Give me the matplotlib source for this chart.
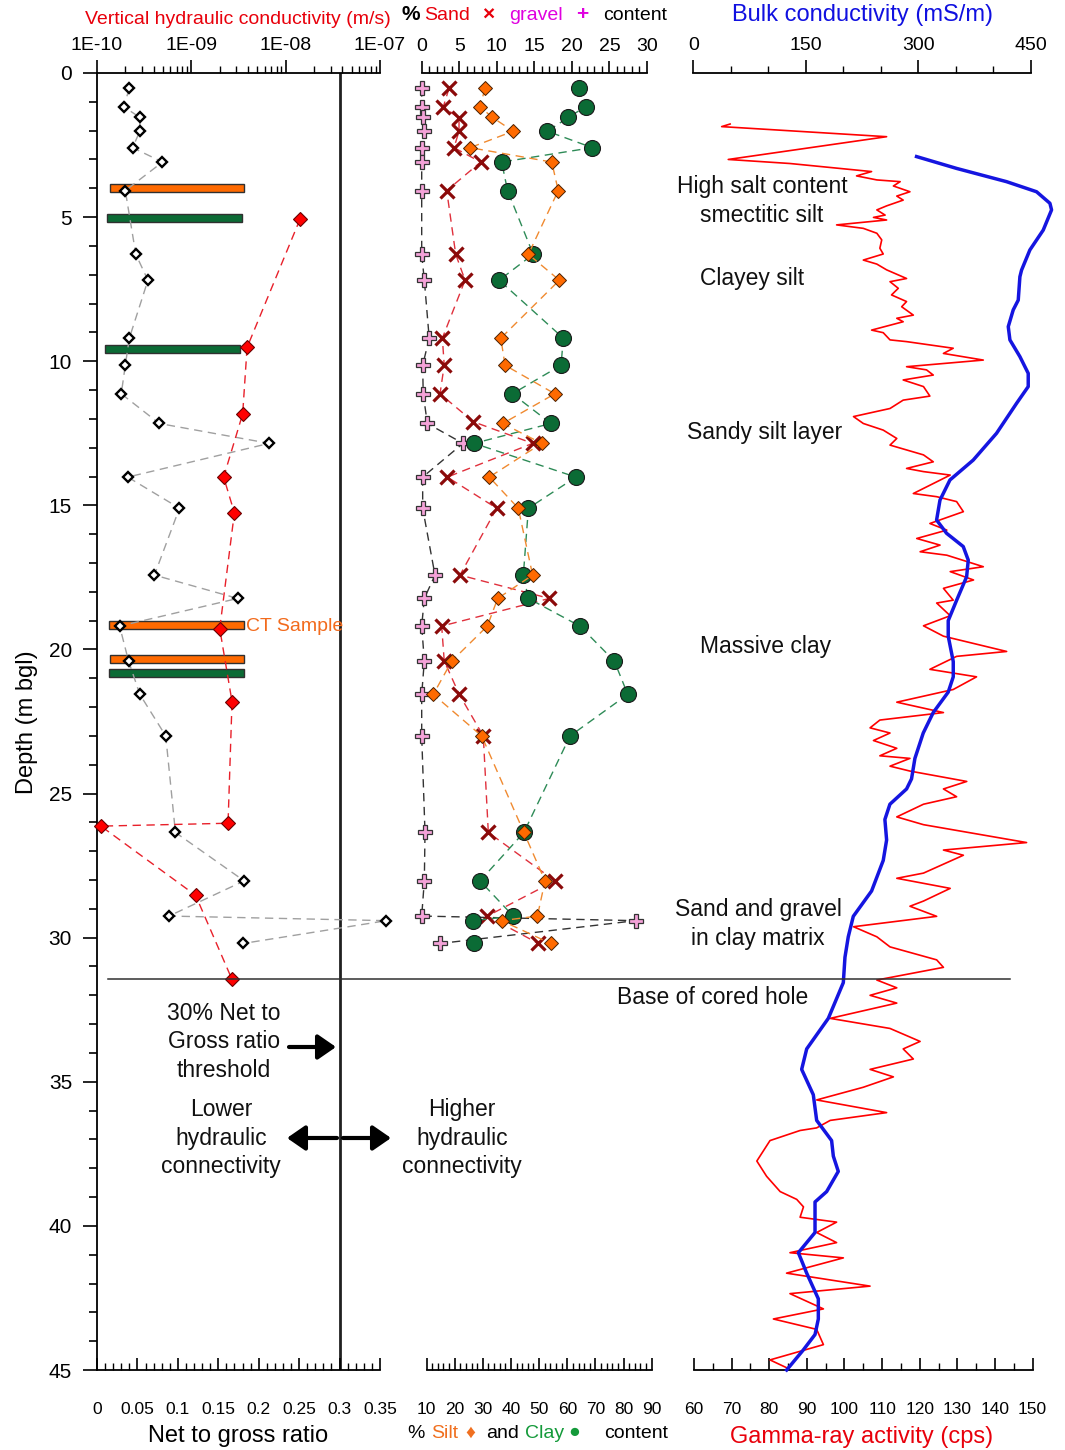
import numpy as np
import matplotlib
matplotlib.use("Agg")
import matplotlib.pyplot as plt
from matplotlib.ticker import FixedLocator, LogLocator, NullFormatter, FuncFormatter
from matplotlib.lines import Line2D
from matplotlib.patches import FancyArrowPatch
from matplotlib import transforms

plt.rcParams['font.family'] = ['Liberation Sans', 'DejaVu Sans']
plt.rcParams['axes.linewidth'] = 1.3

# ---------------- data ----------------
# core sample depths (m bgl)
sample_depth = [0.53, 1.17, 1.54, 2.02, 2.59, 3.09, 4.08, 6.29, 7.19, 9.20, 10.14, 11.13, 12.16, 12.85,
                14.02, 15.10, 17.42, 18.23, 19.19, 20.40, 21.56, 23.00, 26.35, 28.03, 29.25, 29.41, 30.20]
# net to gross ratio
ntg = [0.040, 0.033, 0.053, 0.053, 0.044, 0.081, 0.035, 0.048, 0.063, 0.040, 0.035, 0.030, 0.077, 0.213,
       0.038, 0.102, 0.071, 0.174, 0.028, 0.039, 0.053, 0.085, 0.097, 0.182, 0.089, 0.358, 0.181]
# vertical hydraulic conductivity (m/s)
k_depth = [5.07, 9.52, 11.83, 14.02, 15.26, 19.28, 21.81, 26.03, 26.13, 28.53, 31.45]
k_vals = [1.42e-8, 3.9e-9, 3.5e-9, 2.2e-9, 2.86e-9, 2.0e-9, 2.7e-9, 2.45e-9, 1.1e-10, 1.11e-9, 2.7e-9]
# sampled intervals (bars)
bar_depth = [4.00, 5.04, 9.57, 19.15, 20.32, 20.83]
bar_left = [0.016, 0.012, 0.010, 0.015, 0.016, 0.015]
bar_right = [0.182, 0.179, 0.177, 0.182, 0.182, 0.182]
bar_kind = ['orange', 'green', 'green', 'orange', 'orange', 'green']
# grain size composition (%)
gravel = [0.0, 0.0, 0.13, 0.3, 0.0, 0.0, 0.0, 0.0, 0.35, 1.0, 0.13, 0.2, 0.75, 5.5,
          0.13, 0.13, 1.77, 0.35, 0.0, 0.35, 0.0, 0.0, 0.44, 0.35, 0.0, 28.5, 2.5]
sand_depth = [0.53, 1.17, 1.57, 2.02, 2.59, 3.09, 4.08, 6.29, 7.19, 9.20, 10.14, 11.13, 12.10, 12.85,
              14.02, 15.10, 17.42, 18.23, 19.19, 20.40, 21.56, 23.00, 26.35, 28.03, 29.25, 30.20]
sand = [3.64, 2.88, 4.97, 4.97, 4.3, 7.85, 3.33, 4.53, 5.77, 2.75, 3.0, 2.44, 6.87, 14.78,
        3.41, 9.99, 5.1, 17.0, 2.66, 3.0, 5.0, 8.2, 8.87, 17.75, 8.74, 15.53]
silt = [30.8, 29.0, 33.4, 40.8, 25.5, 54.5, 56.8, 46.2, 57.2, 36.4, 37.9, 55.6, 37.1, 50.9,
        32.3, 42.6, 47.7, 35.3, 31.6, 19.0, 12.4, 29.6, 44.6, 52.1, 49.4, 36.7, 54.1]
clay = [64.2, 66.5, 60.4, 52.9, 68.9, 36.7, 38.8, 47.9, 35.8, 58.6, 57.8, 40.5, 54.2, 26.9,
        63.1, 46.2, 44.4, 46.2, 64.5, 76.7, 81.5, 61.0, 44.6, 29.0, 40.8, 26.6, 26.9]
# gamma-ray log (cps)
gamma = [69.6, 67.35, 111.2, 69.1, 85.5, 105.0, 107.2, 103.2, 108.6, 114.8, 113.0, 117.4, 113.9, 115.6,
         111.2, 108.6, 110.8, 107.7, 111.2, 97.9, 105.0, 108.6, 109.9, 109.4, 110.3, 105.0, 108.6, 111.2,
         116.5, 112.1, 114.3, 112.5, 116.5, 115.2, 118.3, 113.9, 115.6, 107.2, 110.3, 112.1, 116.5, 128.9,
         126.3, 136.9, 116.5, 121.8, 123.6, 115.6, 121.0, 122.7, 115.6, 112.1, 102.4, 105.0, 110.3, 113.9,
         112.1, 121.0, 123.6, 116.5, 121.0, 128.1, 118.3, 124.5, 129.8, 131.6, 122.7, 127.2, 119.2, 125.4,
         120.1, 127.2, 136.9, 128.1, 134.3, 126.3, 128.9,
         124.5, 128.1, 121.0, 126.3, 143.1, 129.8, 122.7, 135.1, 128.9, 113.9, 126.3, 109.4, 106.8, 112.1,
         107.7, 113.9, 109.4, 117.4, 112.1, 117.4, 132.5, 126.3, 129.8, 121.0, 113.9, 121.0, 148.4, 126.3,
         131.6, 121.0, 113.9, 128.1, 121.0, 117.4, 124.5, 102.4, 108.6, 112.1, 124.5, 126.3, 108.6, 113.9,
         106.8, 113.9, 96.2, 112.1, 120.1, 115.6, 118.3, 106.8, 113.0, 105.0, 92.6, 111.2, 96.2, 92.6,
         88.2, 80.2, 76.7, 79.3, 82.9, 87.3, 89.1, 88.2, 97.9, 92.6, 97.9, 85.5, 99.7, 84.6, 106.8, 85.5,
         94.4, 81.1, 92.6, 94.4, 80.2, 84.6]
gamma_depth = [1.77, 1.86, 2.21, 3.00, 3.14, 3.39, 3.42, 3.57, 3.71, 3.77, 3.92, 4.12, 4.27, 4.41,
               4.61, 4.75, 4.93, 5.01, 5.10, 5.27, 5.39, 5.56, 5.79, 6.08, 6.28, 6.49, 6.63, 6.83,
               7.13, 7.24, 7.47, 7.70, 7.93, 8.11, 8.40, 8.51, 8.63, 8.92, 9.01, 9.26, 9.32, 9.55,
               9.73, 9.96, 10.19, 10.30, 10.48, 10.65, 10.88, 11.21, 11.35, 11.64, 11.92, 12.16, 12.39, 12.68,
               12.91, 13.25, 13.49, 13.72, 13.83, 13.95, 14.59, 14.70, 14.87, 15.22, 15.63, 15.86, 16.15, 16.38,
               16.61, 16.73, 17.13, 17.30, 17.59, 17.88, 18.29,
               18.39, 18.83, 19.18, 19.54, 20.07, 20.24, 20.69, 20.95, 21.39, 21.83, 22.19, 22.45, 22.72, 22.90,
               23.16, 23.43, 23.69, 23.78, 24.05, 24.22, 24.58, 24.84, 25.11, 25.37, 25.81, 26.08, 26.70, 26.96,
               27.14, 27.76, 27.94, 28.29, 28.73, 28.91, 29.26, 29.62, 29.97, 30.32, 30.77, 31.03, 31.47, 31.74,
               32.00, 32.27, 32.80, 33.15, 33.60, 33.86, 34.21, 34.57, 34.83, 35.19, 35.63, 36.07, 36.34, 36.60,
               36.69, 37.04, 37.75, 38.28, 38.81, 39.08, 39.34, 39.70, 39.87, 40.23, 40.58, 40.93, 41.11, 41.64,
               42.09, 42.35, 42.88, 43.23, 43.59, 44.12, 44.65, 44.92]
# bulk conductivity (mS/m)
bulk = [297.5, 350.8, 417.4, 457.4, 475.2, 477.4, 466.3, 448.5, 437.4, 435.2, 433.0, 426.3, 419.7, 421.9,
        435.2, 446.3, 446.3, 430.8, 404.1, 373.0, 342.0, 328.7, 324.2, 337.5, 359.7, 366.4, 364.2, 350.8,
        339.7, 339.7, 346.4, 346.4, 339.7, 319.7, 306.4, 295.3, 290.8, 284.2, 262.0, 255.3, 257.6, 253.1,
        237.6, 213.2, 206.5, 202.1, 199.9, 179.9, 151.1, 144.4, 159.9, 164.4, 184.3, 186.6, 193.2, 177.7,
        162.2, 162.2, 140.0, 151.1, 166.6, 166.6, 162.2, 146.7, 124.4]
bulk_depth = [2.90, 3.31, 3.77, 4.12, 4.52, 4.75, 5.45, 6.14, 6.84, 7.07, 7.88, 8.22, 8.80, 9.26,
              9.84, 10.42, 10.88, 11.46, 12.50, 13.43, 14.12, 14.82, 15.51, 15.97, 16.43, 16.90, 17.48, 18.30,
              19.00, 19.54, 20.42, 20.95, 21.48, 22.19, 22.90, 23.78, 24.49, 24.84, 25.37, 25.90, 26.61, 27.32,
              28.38, 29.26, 29.97, 30.68, 31.56, 32.80, 33.86, 34.57, 35.45, 36.34, 37.04, 37.58, 38.11, 38.81,
              39.17, 40.23, 40.93, 41.64, 42.53, 43.23, 43.77, 44.30, 45.00]
base_depth = 31.45
ntg_threshold = 0.3

# ---------------- layout helpers ----------------
W, H = 1065, 1450
fig = plt.figure(figsize=(W / 100, H / 100), dpi=100)
Y0, Y1 = 73, 1370
PT = 0.72


def rect(x0, x1):
    return [x0 / W, 1 - Y1 / H, (x1 - x0) / W, (Y1 - Y0) / H]


def fx(px):
    return px / W


def fy(py):
    return 1 - py / H


def only_spine(ax, keep):
    for s in ['left', 'right', 'top', 'bottom']:
        ax.spines[s].set_visible(s in keep)
        ax.spines[s].set_linewidth(1.3)


DASH = (6, 4)
TOP_PAD = 4.5
BOT_PAD = 23

# ---------------- panel 1 ----------------
ax1 = fig.add_axes(rect(97, 380))
ax1.set_xlim(0, 0.35)
ax1.set_ylim(45, 0)
only_spine(ax1, ['left', 'bottom'])
ax1.yaxis.set_major_locator(FixedLocator(np.arange(0, 46, 5)))
ax1.yaxis.set_minor_locator(FixedLocator(np.arange(0, 46, 1)))
ax1.tick_params(axis='y', which='major', direction='out', length=14 * PT, width=1.2, labelsize=15, pad=11 * PT)
ax1.tick_params(axis='y', which='minor', direction='out', length=8 * PT, width=1.2)
ax1.xaxis.set_major_locator(FixedLocator(np.round(np.arange(0, 0.351, 0.05), 2)))
ax1.xaxis.set_minor_locator(FixedLocator(np.round(np.arange(0, 0.351, 0.01), 2)))
ax1.xaxis.set_major_formatter(FuncFormatter(lambda v, p: f'{v:g}'))
ax1.tick_params(axis='x', which='major', direction='in', length=12 * PT, width=1.2, labelsize=12.5,
                pad=BOT_PAD, top=False)
ax1.tick_params(axis='x', which='minor', direction='in', length=7 * PT, width=1.0, top=False)

bar_colors = {'orange': '#FF6A00', 'green': '#0B6B35'}
ax1.barh(bar_depth, np.array(bar_right) - np.array(bar_left), left=bar_left, height=0.27,
         color=[bar_colors[k] for k in bar_kind], edgecolor='#303030', linewidth=1, zorder=2)
ax1.axvline(ntg_threshold, color='#202020', lw=2, zorder=1)
ax1.plot(ntg, sample_depth, color='#A0A0A0', lw=1, dashes=DASH, zorder=3, clip_on=False)
ax1.plot(ntg, sample_depth, ls='none', marker='D', ms=5.2, mfc='white', mec='black', mew=1.7,
         zorder=4, clip_on=False)

ax1k = ax1.twiny()
ax1k.set_xscale('log')
ax1k.set_xlim(1e-10, 1e-7)
only_spine(ax1k, ['top'])
ax1k.xaxis.set_major_locator(FixedLocator([1e-10, 1e-9, 1e-8, 1e-7]))
ax1k.xaxis.set_minor_locator(LogLocator(base=10, subs=np.arange(2, 10)))
ax1k.xaxis.set_major_formatter(FuncFormatter(lambda v, p: '1E-%02d' % round(-np.log10(v))))
ax1k.xaxis.set_minor_formatter(NullFormatter())
ax1k.tick_params(axis='x', which='major', direction='out', length=13 * PT, width=1.2, labelsize=14, pad=TOP_PAD)
ax1k.tick_params(axis='x', which='minor', direction='out', length=7 * PT, width=1.0)
ax1k.plot(k_vals, k_depth, color='#E8202A', lw=1, dashes=DASH, zorder=3)
ax1k.plot(k_vals, k_depth, ls='none', marker='D', ms=7.6, mfc='#FF0000', mec='#6a0000', mew=0.8,
          zorder=4, clip_on=False)

ax1.text(0.1843, 19.19, 'CT Sample', color='#F26B1D', fontsize=14, ha='left', va='center', zorder=5)

# ---------------- panel 2 ----------------
ax2t = fig.add_axes(rect(421.7, 647))
ax2t.set_xlim(0, 30)
ax2t.set_ylim(45, 0)
ax2t.patch.set_visible(False)
only_spine(ax2t, ['top'])
ax2t.yaxis.set_visible(False)
ax2t.xaxis.tick_top()
ax2t.xaxis.set_major_locator(FixedLocator(np.arange(0, 31, 5)))
ax2t.xaxis.set_minor_locator(FixedLocator(np.arange(0, 31, 1)))
ax2t.tick_params(axis='x', which='major', direction='out', length=12 * PT, width=1.2, labelsize=14, pad=TOP_PAD)
ax2t.tick_params(axis='x', which='minor', direction='out', length=7 * PT, width=1.0)

ax2t.plot(gravel, sample_depth, color='#333333', lw=1, dashes=DASH, clip_on=False)
ax2t.plot(gravel, sample_depth, ls='none', marker='P', ms=10.5, mfc='#F4A2D8', mec='#333333', mew=0.9,
          clip_on=False)
ax2t.plot(sand, sand_depth, color='#E0303C', lw=1, dashes=DASH, clip_on=False)
ax2t.plot(sand, sand_depth, ls='none', marker='x', ms=10, mec='#8B0A0A', mew=2.3, clip_on=False)

ax2b = fig.add_axes(rect(426.5, 651.7))
ax2b.set_xlim(10, 90)
ax2b.set_ylim(45, 0)
ax2b.patch.set_visible(False)
only_spine(ax2b, ['bottom'])
ax2b.yaxis.set_visible(False)
ax2b.xaxis.set_major_locator(FixedLocator(np.arange(10, 91, 10)))
ax2b.xaxis.set_minor_locator(FixedLocator(np.arange(10, 91, 2)))
ax2b.tick_params(axis='x', which='major', direction='in', length=12 * PT, width=1.2, labelsize=12.5, pad=BOT_PAD)
ax2b.tick_params(axis='x', which='minor', direction='in', length=7 * PT, width=1.0)

ax2b.plot(clay, sample_depth, color='#2E8B57', lw=1, dashes=DASH, clip_on=False)
ax2b.plot(clay, sample_depth, ls='none', marker='o', ms=11.5, mfc='#0B6B35', mec='#1a1a1a', mew=0.8,
          clip_on=False)
ax2b.plot(silt, sample_depth, color='#F08A30', lw=1, dashes=DASH, clip_on=False)
ax2b.plot(silt, sample_depth, ls='none', marker='D', ms=7.4, mfc='#FF6A00', mec='#4a2000', mew=0.7,
          clip_on=False)

# ---------------- panel 3 ----------------
ax3b = fig.add_axes(rect(694, 1032.6))
ax3b.set_xlim(60, 150)
ax3b.set_ylim(45, 0)
ax3b.patch.set_visible(False)
only_spine(ax3b, ['bottom'])
ax3b.yaxis.set_visible(False)
ax3b.xaxis.set_major_locator(FixedLocator(np.arange(60, 151, 10)))
ax3b.xaxis.set_minor_locator(FixedLocator(np.arange(60, 151, 5)))
ax3b.tick_params(axis='x', which='major', direction='in', length=12 * PT, width=1.2, labelsize=12.5, pad=BOT_PAD)
ax3b.tick_params(axis='x', which='minor', direction='in', length=7 * PT, width=1.0)
ax3b.plot(gamma, gamma_depth, color='#FF0000', lw=1.2)

ax3t = fig.add_axes(rect(693.3, 1031))
ax3t.set_xlim(0, 450)
ax3t.set_ylim(45, 0)
ax3t.patch.set_visible(False)
only_spine(ax3t, ['top'])
ax3t.yaxis.set_visible(False)
ax3t.xaxis.tick_top()
ax3t.xaxis.set_major_locator(FixedLocator([0, 150, 300, 450]))
ax3t.xaxis.set_minor_locator(FixedLocator(np.arange(0, 451, 50)))
ax3t.tick_params(axis='x', which='major', direction='out', length=13 * PT, width=1.2, labelsize=14, pad=TOP_PAD)
ax3t.tick_params(axis='x', which='minor', direction='out', length=7 * PT, width=1.0)
ax3t.plot(bulk, bulk_depth, color='#1515E0', lw=2.5, clip_on=False)

# ---------------- base of cored hole line ----------------
trans = transforms.blended_transform_factory(fig.transFigure, ax1.transData)
fig.add_artist(Line2D([fx(108), fx(1010)], [base_depth, base_depth], transform=trans,
                      color='#303030', lw=1.1))


# ---------------- arrows ----------------
def arrow(x0, x1, y):
    fig.add_artist(FancyArrowPatch((fx(x0), fy(y)), (fx(x1), fy(y)), transform=fig.transFigure,
                                   arrowstyle='-|>,head_length=0.55,head_width=0.38', mutation_scale=20,
                                   lw=3, color='black', shrinkA=0, shrinkB=0))


arrow(289, 336, 1047)
arrow(337, 287, 1138)
arrow(343, 391, 1138)

# ---------------- annotations ----------------
ann = dict(fontsize=16.5, ha='center', va='center', linespacing=1.3, color='#111111')
fig.text(fx(224), fy(1042), '30% Net to\nGross ratio\nthreshold', **ann)
fig.text(fx(221), fy(1138), 'Lower\nhydraulic\nconnectivity', **ann)
fig.text(fx(462), fy(1138), 'Higher\nhydraulic\nconnectivity', **ann)
fig.text(fx(762), fy(201), 'High salt content\nsmectitic silt', **ann)
fig.text(fx(752), fy(278), 'Clayey silt', **ann)
fig.text(fx(765), fy(432), 'Sandy silt layer', **ann)
fig.text(fx(766), fy(647), 'Massive clay', **ann)
fig.text(fx(758), fy(924), 'Sand and gravel\nin clay matrix', **ann)
fig.text(fx(713), fy(997), 'Base of cored hole', **ann)

# ---------------- axis titles ----------------
fig.text(fx(238), fy(20), 'Vertical hydraulic conductivity (m/s)', color='#E8000B', fontsize=14,
         ha='center', va='center')
fig.text(fx(862), fy(15), 'Bulk conductivity (mS/m)', color='#1010E0', fontsize=17, ha='center', va='center')
fig.text(fx(238), fy(1436), 'Net to gross ratio', color='black', fontsize=17, ha='center', va='center')
fig.text(fx(862), fy(1437), 'Gamma-ray activity (cps)', color='#E8000B', fontsize=17, ha='center', va='center')
fig.text(fx(27), fy(722), 'Depth (m bgl)', fontsize=17, rotation=90, ha='center', va='center')

top_parts = [('%', 402, 'black', 'bold'), ('Sand', 424, '#E8000B', 'normal'), ('\u00d7', 482, '#E8000B', 'bold'),
             ('gravel', 509, '#E000E0', 'normal'), ('+', 576, '#E000E0', 'bold'), ('content', 603, 'black', 'normal')]
for t, x, c, w in top_parts:
    fig.text(fx(x), fy(15), t, color=c, fontsize=14 if w == 'normal' else 15, fontweight=w,
             ha='left', va='center', family=['Liberation Sans', 'DejaVu Sans'])

bot_parts = [('%', 407, 'black'), ('Silt', 431, '#F07020'), ('\u2666', 465, '#F07020'), ('and', 486, 'black'),
             ('Clay', 525, '#149A3A'), ('\u25cf', 568, '#149A3A'), ('content', 604, 'black')]
for t, x, c in bot_parts:
    fig.text(fx(x), fy(1433), t, color=c, fontsize=14, ha='left', va='center',
             family=['Liberation Sans', 'DejaVu Sans'])

fig.savefig('out.png', dpi=100)
